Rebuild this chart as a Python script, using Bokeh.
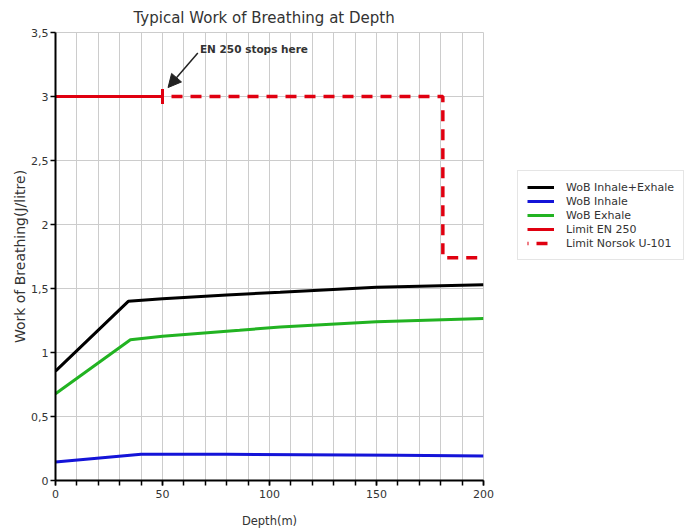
import numpy as np
from bokeh.plotting import figure
from bokeh.models import (Range1d, Legend, LegendItem, Label, Arrow, NormalHead,
                          FixedTicker)
from bokeh.embed import file_html
from bokeh.resources import INLINE

# ---- data ----
depth_total = [0, 34, 50, 80, 105, 150, 200]
wob_total = [0.855, 1.40, 1.42, 1.45, 1.47, 1.51, 1.53]

depth_inhale = [0, 40, 80, 160, 200]
wob_inhale = [0.145, 0.205, 0.205, 0.197, 0.192]

depth_exhale = [0, 35, 50, 86, 105, 150, 200]
wob_exhale = [0.677, 1.10, 1.127, 1.174, 1.20, 1.24, 1.265]

en250_x = [0, 50]
en250_y = [3.0, 3.0]

norsok_x = [50, 181, 181, 200]
norsok_y = [3.0, 3.0, 1.74, 1.74]

x_ticks = [0, 50, 100, 150, 200]
y_ticks = [0, 0.5, 1, 1.5, 2, 2.5, 3, 3.5]
y_tick_labels = ["0", "0,5", "1", "1,5", "2", "2,5", "3", "3,5"]

series_names = ["WoB Inhale+Exhale", "WoB Inhale", "WoB Exhale",
                "Limit EN 250", "Limit Norsok U-101"]

annot_text = "EN 250 stops here"
annot_pos = (67.5, 3.37)
arrow_start = (66.5, 3.34)
arrow_end = (52.6, 3.07)

FONT = "DejaVu Sans"
TXT = "#333333"

p = figure(frame_width=428, frame_height=448,
           x_range=Range1d(0, 200), y_range=Range1d(0, 3.5),
           output_backend="svg", toolbar_location=None,
           title="Typical Work of Breathing at Depth")
p.margin = (0, 0, 0, 9)
p.min_border_left = 0
p.min_border_right = 0
p.min_border_top = 0
p.min_border_bottom = 0

p.title.text_font = FONT
p.title.text_font_size = "15px"
p.title.text_font_style = "normal"
p.title.text_color = TXT
p.title.align = "left"
p.title.offset = 78
p.title.standoff = 12
p.title.text_line_height = 1.0

p.outline_line_color = "#cccccc"
p.outline_line_width = 1

# axes
p.xaxis.ticker = FixedTicker(ticks=x_ticks,
                             minor_ticks=list(range(0, 201, 10)))
p.yaxis.ticker = FixedTicker(ticks=y_ticks)
p.yaxis.major_label_overrides = {t: l for t, l in zip(y_ticks, y_tick_labels)}

for ax in (p.xaxis[0], p.yaxis[0]):
    ax.axis_line_color = "black"
    ax.axis_line_width = 2
    ax.major_tick_line_color = "black"
    ax.major_tick_line_width = 1.5
    ax.major_tick_out = 5
    ax.major_tick_in = 0
    ax.major_label_text_font = FONT
    ax.major_label_text_font_size = "11px"
    ax.major_label_text_color = TXT
    ax.axis_label_text_font = FONT
    ax.axis_label_text_font_style = "normal"
    ax.axis_label_text_color = TXT

p.xaxis.axis_label_text_font_size = "11.5px"
p.yaxis.axis_label_text_font_size = "14px"
p.xaxis.minor_tick_line_color = "black"
p.xaxis.minor_tick_line_width = 1.5
p.xaxis.minor_tick_out = 5
p.xaxis.minor_tick_in = 0
p.yaxis.minor_tick_line_color = None
p.xaxis.major_label_standoff = 4
p.yaxis.major_label_standoff = 2
p.xaxis.axis_label = "Depth(m)"
p.yaxis.axis_label = "Work of Breathing(J/litre)"
p.xaxis.axis_label_standoff = 13
p.yaxis.axis_label_standoff = 0

# grids
p.xgrid.grid_line_color = "#cccccc"
p.xgrid.minor_grid_line_color = "#cccccc"
p.ygrid.grid_line_color = "#cccccc"
p.xgrid.grid_line_width = 1
p.ygrid.grid_line_width = 1

# series
r_total = p.line(depth_total, wob_total, line_color="black", line_width=3)
r_inhale = p.line(depth_inhale, wob_inhale, line_color="#1414d8", line_width=3)
r_exhale = p.line(depth_exhale, wob_exhale, line_color="#22b322", line_width=3)
r_en = p.line(en250_x, en250_y, line_color="#e00010", line_width=3)
r_cap = p.scatter([en250_x[-1]], [en250_y[-1]], marker="dash", angle=np.pi / 2,
                  size=15, line_color="#e00010", line_width=3)
r_nor = p.line(norsok_x, norsok_y, line_color="#e00010", line_width=3.5,
               line_dash="11 8", line_dash_offset=10)

# annotation
p.add_layout(Label(x=annot_pos[0], y=annot_pos[1], text=annot_text,
                   text_font=FONT, text_font_size="10.5px",
                   text_font_style="bold", text_color=TXT,
                   text_baseline="middle"))
p.add_layout(Arrow(end=NormalHead(size=13, fill_color="#222222",
                                  line_color="#222222"),
                   x_start=arrow_start[0], y_start=arrow_start[1],
                   x_end=arrow_end[0], y_end=arrow_end[1],
                   line_color="#222222", line_width=1.5))

legend = Legend(items=[
    LegendItem(label=series_names[0], renderers=[r_total]),
    LegendItem(label=series_names[1], renderers=[r_inhale]),
    LegendItem(label=series_names[2], renderers=[r_exhale]),
    LegendItem(label=series_names[3], renderers=[r_en, r_cap]),
    LegendItem(label=series_names[4], renderers=[r_nor]),
], location=(34, 220))
legend.label_text_font = FONT
legend.label_text_font_size = "11px"
legend.label_text_color = TXT
legend.glyph_width = 27
legend.glyph_height = 14
legend.label_height = 14
legend.label_standoff = 12
legend.spacing = 0
legend.padding = 9
legend.margin = 0
legend.border_line_color = "#cccccc"
legend.border_line_width = 1
legend.background_fill_color = "white"
legend.background_fill_alpha = 1
p.add_layout(legend, "right")

open("out.html", "w").write(file_html(p, INLINE))
